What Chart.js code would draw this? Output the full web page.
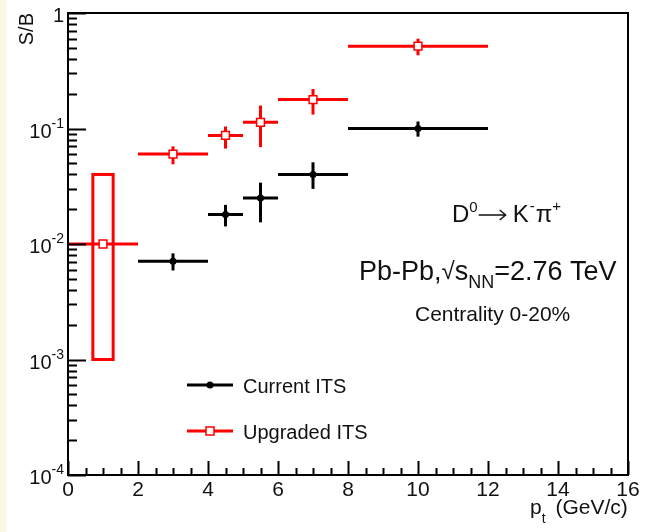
<!DOCTYPE html>
<html>
<head>
<meta charset="utf-8">
<title>S/B D0 ITS upgrade</title>
<script src="https://cdn.jsdelivr.net/npm/chart.js@4.4.1/dist/chart.umd.min.js"></script>
<style>
  html, body { margin: 0; padding: 0; background: #fff; }
  #wrap { position: relative; width: 650px; height: 532px; }
  #strip { position: absolute; left: 0; top: 0; width: 6px; height: 532px; background: #fdf6e1; }
  canvas { position: absolute; left: 0; top: 0; }
</style>
</head>
<body>
<div id="wrap">
  <canvas id="chart" width="650" height="532"></canvas>
  <div id="strip"></div>
</div>
<script>
// upgraded ITS (red open squares)
const upgX = [1, 3, 4.5, 5.5, 7, 10];
const upgXLow = [0, 2, 4, 5, 6, 8];
const upgXHigh = [2, 4, 5, 6, 8, 12];
const upgSB = [0.010, 0.060, 0.087, 0.113, 0.178, 0.516];
const upgErrLow = [0.010, 0.049, 0.067, 0.069, 0.132, 0.43];
const upgErrHigh = [0.010, 0.070, 0.104, 0.158, 0.22, 0.60];
// systematic box on the first upgraded bin
const upgSysX = [0.71, 1.29];
const upgSysY = [0.001, 0.04];

// current ITS (black dots)
const curX = [3, 4.5, 5.5, 7, 10];
const curXLow = [2, 4, 5, 6, 8];
const curXHigh = [4, 5, 6, 8, 12];
const curSB = [0.0071, 0.018, 0.025, 0.040, 0.100];
const curErrLow = [0.0059, 0.0142, 0.0154, 0.030, 0.085];
const curErrHigh = [0.0083, 0.0218, 0.034, 0.051, 0.115];

const xTicks = [0, 2, 4, 6, 8, 10, 12, 14, 16];
const yDecades = [-4, -3, -2, -1, 0];

const FONT = '"Liberation Sans", Arial, sans-serif';
const TXT = '#111';

function font(size) {
  return size + 'px ' + FONT;
}

// draw a run of text pieces: [text, size, dy, extra gap]
function drawRich(ctx, x, y, parts) {
  ctx.textAlign = 'left';
  ctx.textBaseline = 'alphabetic';
  parts.forEach(p => {
    if (p[0] === 'ARROW') {
      // long thin arrow like ROOT's #rightarrow
      ctx.save();
      ctx.strokeStyle = TXT;
      ctx.lineWidth = 1.4;
      ctx.beginPath();
      ctx.moveTo(x, y - 7);
      ctx.lineTo(x + p[1], y - 7);
      ctx.moveTo(x + p[1] - 6, y - 12);
      ctx.lineTo(x + p[1], y - 7);
      ctx.lineTo(x + p[1] - 6, y - 2);
      ctx.stroke();
      ctx.restore();
      x += p[1] + (p[3] || 0);
      return;
    }
    ctx.font = font(p[1]);
    ctx.fillText(p[0], x, y + (p[2] || 0));
    x += ctx.measureText(p[0]).width + (p[3] || 0);
  });
}

const errorBars = {
  id: 'errorBars',
  beforeDatasetsDraw(chart) {
    const ctx = chart.ctx;
    const xs = chart.scales.x, ys = chart.scales.y;
    ctx.save();
    ctx.lineWidth = 3;
    ctx.lineCap = 'butt';

    // systematic box
    ctx.strokeStyle = '#ff0000';
    const bx1 = xs.getPixelForValue(upgSysX[0]), bx2 = xs.getPixelForValue(upgSysX[1]);
    const by1 = ys.getPixelForValue(upgSysY[1]), by2 = ys.getPixelForValue(upgSysY[0]);
    ctx.strokeRect(bx1, by1, bx2 - bx1, by2 - by1);

    function series(xv, lo, hi, yv, elo, ehi, col) {
      ctx.strokeStyle = col;
      xv.forEach((x, i) => {
        const py = ys.getPixelForValue(yv[i]);
        const px = xs.getPixelForValue(x);
        ctx.beginPath();
        ctx.moveTo(xs.getPixelForValue(lo[i]), py);
        ctx.lineTo(xs.getPixelForValue(hi[i]), py);
        ctx.stroke();
        if (ehi[i] > elo[i]) {
          ctx.beginPath();
          ctx.moveTo(px, ys.getPixelForValue(ehi[i]));
          ctx.lineTo(px, ys.getPixelForValue(elo[i]));
          ctx.stroke();
        }
      });
    }
    series(curX, curXLow, curXHigh, curSB, curErrLow, curErrHigh, '#000');
    series(upgX, upgXLow, upgXHigh, upgSB, upgErrLow, upgErrHigh, '#ff0000');
    ctx.restore();
  }
};

const rootFrame = {
  id: 'rootFrame',
  afterDraw(chart) {
    const ctx = chart.ctx;
    const a = chart.chartArea;
    const xs = chart.scales.x, ys = chart.scales.y;
    ctx.save();
    ctx.strokeStyle = '#000';
    ctx.lineWidth = 2;

    // x ticks, inside the frame
    ctx.beginPath();
    for (let v = 0; v <= 16.001; v += 0.5) {
      const px = Math.round(xs.getPixelForValue(v)) + 0.5;
      const len = (Math.abs(v % 2) < 0.01) ? 14 : 7;
      ctx.moveTo(px, a.bottom);
      ctx.lineTo(px, a.bottom - len);
    }
    // y ticks
    yDecades.forEach(e => {
      const py = Math.round(ys.getPixelForValue(Math.pow(10, e))) + 0.5;
      ctx.moveTo(a.left, py);
      ctx.lineTo(a.left + 18, py);
      if (e < 0) {
        for (let m = 2; m <= 9; m++) {
          const pm = Math.round(ys.getPixelForValue(m * Math.pow(10, e))) + 0.5;
          ctx.moveTo(a.left, pm);
          ctx.lineTo(a.left + 9, pm);
        }
      }
    });
    ctx.stroke();

    ctx.strokeRect(a.left, a.top, a.right - a.left, a.bottom - a.top);

    // y tick labels with exponents
    ctx.fillStyle = TXT;
    yDecades.forEach(e => {
      const py = ys.getPixelForValue(Math.pow(10, e));
      ctx.textBaseline = 'alphabetic';
      ctx.textAlign = 'right';
      if (e === 0) {
        ctx.font = font(20);
        ctx.fillText('1', 64, py + 9);
      } else {
        ctx.font = font(14);
        const sup = String(e);
        ctx.fillText(sup, 64, py - 1);
        const w = ctx.measureText(sup).width;
        ctx.font = font(20);
        ctx.fillText('10', 64 - w, py + 9);
      }
    });

    // axis titles
    ctx.save();
    ctx.translate(33, 13);
    ctx.rotate(-Math.PI / 2);
    ctx.font = font(20);
    ctx.textAlign = 'right';
    ctx.fillText('S/B', 0, 0);
    ctx.restore();

    drawRich(ctx, 530, 514, [['p', 21], ['t', 14, 9, 4], [' (GeV/c)', 21]]);

    // labels inside
    drawRich(ctx, 452, 222, [['D', 24], ['0', 15, -10, 1], ['ARROW', 27, 0, 7], ['K', 24, 0, 1], ['-', 15, -11, 1], ['\u03c0', 24], ['+', 15, -11]]);
    drawRich(ctx, 359, 280, [['Pb-Pb,', 27], ['\u221a', 24, -1], ['s', 27], ['NN', 18, 8], ['=2.76 TeV', 27]]);
    ctx.font = font(21);
    ctx.fillText('Centrality 0-20%', 415, 321);

    // legend
    const rows = [
      { y: 385, col: '#000', text: 'Current ITS', mark: 'dot' },
      { y: 431, col: '#ff0000', text: 'Upgraded ITS', mark: 'sq' }
    ];
    rows.forEach(r => {
      ctx.strokeStyle = r.col;
      ctx.lineWidth = 3;
      ctx.beginPath();
      ctx.moveTo(187, r.y);
      ctx.lineTo(233, r.y);
      ctx.stroke();
      if (r.mark === 'dot') {
        ctx.fillStyle = '#000';
        ctx.beginPath();
        ctx.arc(210, r.y, 3.5, 0, Math.PI * 2);
        ctx.fill();
      } else {
        ctx.fillStyle = '#fff';
        ctx.lineWidth = 1.5;
        ctx.fillRect(206, r.y - 4, 8, 8);
        ctx.strokeRect(206, r.y - 4, 8, 8);
      }
      ctx.fillStyle = TXT;
      ctx.font = font(20);
      ctx.textAlign = 'left';
      ctx.textBaseline = 'alphabetic';
      ctx.fillText(r.text, 243, r.y + 8);
    });
    ctx.restore();
  }
};

const ctx = document.getElementById('chart').getContext('2d');
const chart = new Chart(ctx, {
  type: 'scatter',
  data: {
    datasets: [
      {
        label: 'Current ITS',
        data: curX.map((x, i) => ({ x: x, y: curSB[i] })),
        pointStyle: 'circle',
        pointRadius: 3.5,
        backgroundColor: '#000',
        borderColor: '#000',
        borderWidth: 0
      },
      {
        label: 'Upgraded ITS',
        data: upgX.map((x, i) => ({ x: x, y: upgSB[i] })),
        pointStyle: 'rect',
        pointRadius: 5.5,
        backgroundColor: '#fff',
        borderColor: '#ff0000',
        borderWidth: 1.5
      }
    ]
  },
  options: {
    responsive: false,
    animation: false,
    layout: { padding: { left: 68, top: 13, right: 22, bottom: 0 } },
    plugins: {
      legend: { display: false },
      tooltip: { enabled: false }
    },
    scales: {
      x: {
        type: 'linear',
        min: 0,
        max: 16,
        afterFit: s => { s.height = 57; },
        afterBuildTicks: s => { s.ticks = xTicks.map(v => ({ value: v })); },
        grid: { display: false, drawTicks: false },
        border: { display: false },
        ticks: {
          font: { family: FONT, size: 21 },
          color: TXT,
          padding: 3,
          maxRotation: 0,
          autoSkip: false
        }
      },
      y: {
        type: 'logarithmic',
        min: 1e-4,
        max: 1,
        display: false
      }
    }
  },
  plugins: [errorBars, rootFrame]
});
</script>
</body>
</html>
